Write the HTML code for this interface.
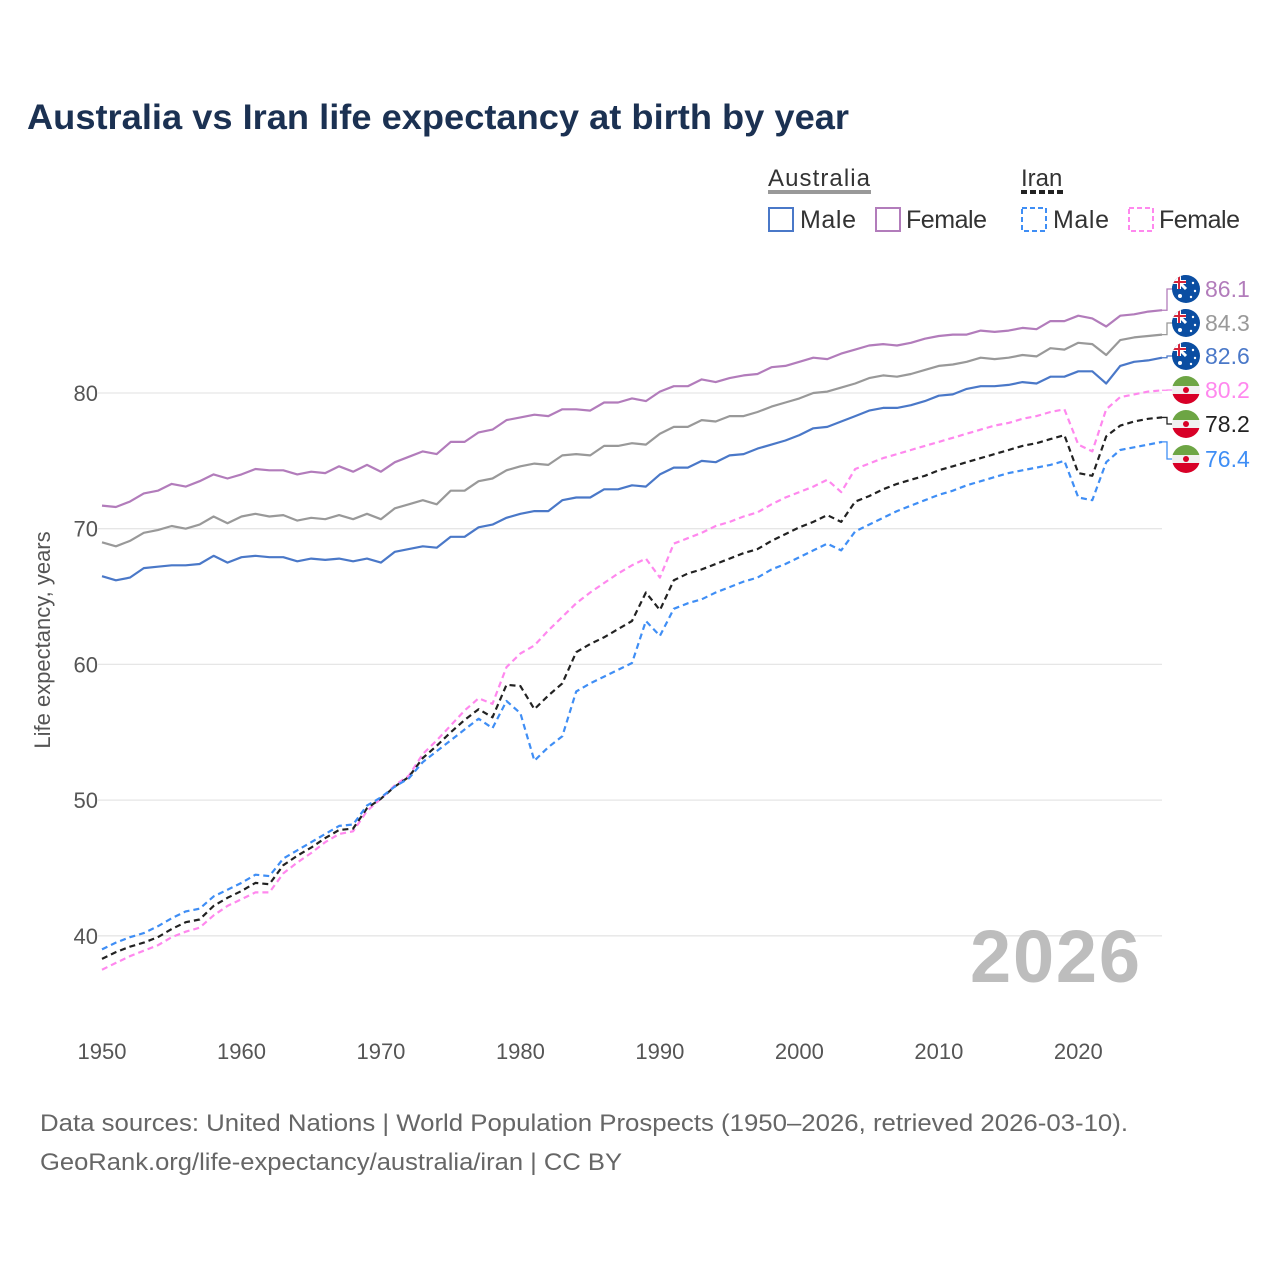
<!DOCTYPE html>
<html><head><meta charset="utf-8"><style>
body{margin:0;background:#fff}
svg text{font-family:"Liberation Sans",sans-serif}
</style></head><body>
<svg id="chart" width="1280" height="1280" viewBox="0 0 1280 1280" xmlns="http://www.w3.org/2000/svg">
<defs><clipPath id="fc"><circle cx="0" cy="0" r="14"/></clipPath></defs>
<text x="27" y="129" font-size="35" font-weight="bold" fill="#1b3152" textLength="822" lengthAdjust="spacingAndGlyphs">Australia vs Iran life expectancy at birth by year</text>
<g>
<text x="768" y="186" font-size="24" fill="#333" textLength="102">Australia</text>
<line x1="768" y1="192" x2="871" y2="192" stroke="#999" stroke-width="4"/>
<text x="1021" y="186" font-size="24" fill="#333">Iran</text>
<line x1="1021" y1="192" x2="1066" y2="192" stroke="#222" stroke-width="4" stroke-dasharray="6,3"/>
<g><rect x="769" y="208" width="24" height="23" fill="none" stroke="#4a78c8" stroke-width="2"/><text x="800" y="228" font-size="25" fill="#333" textLength="56">Male</text></g>
<g><rect x="876" y="208" width="24" height="23" fill="none" stroke="#b27cbb" stroke-width="2"/><text x="906" y="228" font-size="25" fill="#333" textLength="81">Female</text></g>
<g><rect x="1022" y="208" width="24" height="23" fill="none" stroke="#3f8ef5" stroke-width="2" stroke-dasharray="5,3"/><text x="1053" y="228" font-size="25" fill="#333" textLength="56">Male</text></g>
<g><rect x="1129" y="208" width="24" height="23" fill="none" stroke="#ff88ee" stroke-width="2" stroke-dasharray="5,3"/><text x="1159" y="228" font-size="25" fill="#333" textLength="81">Female</text></g>
</g>
<g id="grid"></g>
<text x="1140" y="982" font-size="74" font-weight="bold" fill="#bdbdbd" text-anchor="end" textLength="170">2026</text>
<g id="series"></g>
<g id="ends"></g>
<text transform="translate(50,640) rotate(-90)" font-size="22" fill="#555" text-anchor="middle">Life expectancy, years</text>
<text x="40" y="1131" font-size="24" fill="#666" textLength="1088" lengthAdjust="spacingAndGlyphs">Data sources: United Nations | World Population Prospects (1950–2026, retrieved 2026-03-10).</text>
<text x="40" y="1170" font-size="24" fill="#666" textLength="582" lengthAdjust="spacingAndGlyphs">GeoRank.org/life-expectancy/australia/iran | CC BY</text>
</svg>
<script>
const startYear = 1950;
const xTicks = [1950,1960,1970,1980,1990,2000,2010,2020];
const yTicks = [40,50,60,70,80];
const auMale = [66.5,66.2,66.4,67.1,67.2,67.3,67.3,67.4,68.0,67.5,67.9,68.0,67.9,67.9,67.6,67.8,67.7,67.8,67.6,67.8,67.5,68.3,68.5,68.7,68.6,69.4,69.4,70.1,70.3,70.8,71.1,71.3,71.3,72.1,72.3,72.3,72.9,72.9,73.2,73.1,74.0,74.5,74.5,75.0,74.9,75.4,75.5,75.9,76.2,76.5,76.9,77.4,77.5,77.9,78.3,78.7,78.9,78.9,79.1,79.4,79.8,79.9,80.3,80.5,80.5,80.6,80.8,80.7,81.2,81.2,81.6,81.6,80.7,82.0,82.3,82.4,82.6];
const auTotal = [69.0,68.7,69.1,69.7,69.9,70.2,70.0,70.3,70.9,70.4,70.9,71.1,70.9,71.0,70.6,70.8,70.7,71.0,70.7,71.1,70.7,71.5,71.8,72.1,71.8,72.8,72.8,73.5,73.7,74.3,74.6,74.8,74.7,75.4,75.5,75.4,76.1,76.1,76.3,76.2,77.0,77.5,77.5,78.0,77.9,78.3,78.3,78.6,79.0,79.3,79.6,80.0,80.1,80.4,80.7,81.1,81.3,81.2,81.4,81.7,82.0,82.1,82.3,82.6,82.5,82.6,82.8,82.7,83.3,83.2,83.7,83.6,82.8,83.9,84.1,84.2,84.3];
const auFemale = [71.7,71.6,72.0,72.6,72.8,73.3,73.1,73.5,74.0,73.7,74.0,74.4,74.3,74.3,74.0,74.2,74.1,74.6,74.2,74.7,74.2,74.9,75.3,75.7,75.5,76.4,76.4,77.1,77.3,78.0,78.2,78.4,78.3,78.8,78.8,78.7,79.3,79.3,79.6,79.4,80.1,80.5,80.5,81.0,80.8,81.1,81.3,81.4,81.9,82.0,82.3,82.6,82.5,82.9,83.2,83.5,83.6,83.5,83.7,84.0,84.2,84.3,84.3,84.6,84.5,84.6,84.8,84.7,85.3,85.3,85.7,85.5,84.9,85.7,85.8,86.0,86.1];
const irTotal = [38.3,38.8,39.2,39.5,39.9,40.5,41.0,41.2,42.2,42.8,43.3,43.9,43.8,45.2,45.9,46.5,47.2,47.8,47.9,49.4,50.1,51.0,51.7,53.1,54.0,55.0,55.9,56.7,56.1,58.5,58.4,56.7,57.7,58.6,60.9,61.5,62.0,62.6,63.2,65.3,64.0,66.2,66.7,67.0,67.4,67.8,68.2,68.5,69.1,69.6,70.1,70.5,71.0,70.5,72.0,72.4,72.9,73.3,73.6,73.9,74.3,74.6,74.9,75.2,75.5,75.8,76.1,76.3,76.6,76.9,74.1,73.9,76.8,77.6,77.9,78.1,78.2];
const irMale = [39.0,39.5,39.9,40.2,40.7,41.3,41.8,42.0,42.9,43.4,43.9,44.5,44.4,45.7,46.3,46.9,47.5,48.1,48.2,49.6,50.2,51.0,51.6,52.8,53.6,54.4,55.2,56.0,55.3,57.3,56.4,52.9,53.9,54.7,58.0,58.6,59.1,59.6,60.1,63.2,62.1,64.1,64.5,64.8,65.3,65.7,66.1,66.4,67.0,67.4,67.9,68.4,68.9,68.4,69.8,70.3,70.8,71.3,71.7,72.1,72.5,72.8,73.2,73.5,73.8,74.1,74.3,74.5,74.7,75.0,72.3,72.1,74.9,75.8,76.0,76.2,76.4];
const irFemale = [37.5,38.0,38.5,38.9,39.3,39.9,40.3,40.6,41.5,42.2,42.7,43.2,43.2,44.6,45.4,46.1,46.9,47.5,47.7,49.2,50.1,51.1,51.8,53.4,54.4,55.5,56.6,57.5,57.1,59.8,60.8,61.4,62.5,63.5,64.5,65.3,66.0,66.7,67.3,67.8,66.4,68.9,69.3,69.7,70.2,70.5,70.9,71.2,71.8,72.3,72.7,73.1,73.6,72.7,74.4,74.8,75.2,75.5,75.8,76.1,76.4,76.7,77.0,77.3,77.6,77.8,78.1,78.3,78.6,78.8,76.2,75.7,78.8,79.7,79.9,80.1,80.2];

const NS="http://www.w3.org/2000/svg";
const X0=102,X1=1162,Y80=393,PER=13.57;
const xS=y=>X0+(y-1950)*(X1-X0)/76;
const yS=v=>Y80-(v-80)*PER;
const mk=(t,a,p)=>{const e=document.createElementNS(NS,t);for(const k in a)e.setAttribute(k,a[k]);(p||document.getElementById('chart')).appendChild(e);return e;};
const grid=document.getElementById('grid');
yTicks.forEach(v=>{
  const l=mk('line',{x1:X0-4,x2:X1,y1:yS(v),y2:yS(v),stroke:'#e6e6e6','stroke-width':1.3},grid);
  
  
  const t=mk('text',{x:98,y:yS(v)+8,'font-size':22,fill:'#555','text-anchor':'end'},grid);
  t.textContent=v;
  
  
});
xTicks.forEach(y=>{
  const t=mk('text',{x:xS(y),y:1059,'font-size':22,fill:'#555','text-anchor':'middle'},grid);
  t.textContent=y;
  
  
});
const series=[
 {n:'australia-female',d:auFemale,c:'#b27cbb',dash:null,f:'au',lc:'#b27cbb',ly:289},
 {n:'australia-total',d:auTotal,c:'#999999',dash:null,f:'au',lc:'#999',ly:323},
 {n:'australia-male',d:auMale,c:'#4a78c8',dash:null,f:'au',lc:'#4a78c8',ly:356},
 {n:'iran-female',d:irFemale,c:'#ff88ee',dash:'6,4',f:'ir',lc:'#ff88ee',ly:390},
 {n:'iran-total',d:irTotal,c:'#222222',dash:'6,4',f:'ir',lc:'#222',ly:424},
 {n:'iran-male',d:irMale,c:'#3f8ef5',dash:'6,4',f:'ir',lc:'#3f8ef5',ly:459}
];
const sg=document.getElementById('series'),eg=document.getElementById('ends');
series.forEach(s=>{
  const pts=s.d.map((v,i)=>xS(startYear+i).toFixed(1)+','+yS(v).toFixed(1)).join(' ');
  const a={points:pts,fill:'none',stroke:s.c,'stroke-width':2.2,'stroke-linejoin':'round'};
  if(s.dash)a['stroke-dasharray']=s.dash;
  const p=mk('polyline',a,sg);
  
  
  const last=s.d[s.d.length-1],ey=yS(last);
  const c=mk('polyline',{points:`${X1},${ey} ${X1+5},${ey} ${X1+5},${s.ly} ${X1+12},${s.ly}`,fill:'none',stroke:s.c,'stroke-width':1.3},eg);
  
  
  const g=mk('g',{transform:`translate(1186,${s.ly})`},eg);
  
  
  if(s.f==='au'){
    mk('circle',{cx:0,cy:0,r:14,fill:'#0b4ea2'},g);
    const q=mk('g',{'clip-path':'url(#fc)'},g);
    mk('rect',{x:-14,y:-14,width:14,height:14,fill:'#0b4ea2'},q);
    mk('line',{x1:-14,y1:-14,x2:0,y2:0,stroke:'#fff','stroke-width':3},q);
    mk('line',{x1:-14,y1:-7,x2:0,y2:-7,stroke:'#fff','stroke-width':4},q);
    mk('line',{x1:-7,y1:-14,x2:-7,y2:0,stroke:'#fff','stroke-width':4},q);
    mk('line',{x1:-14,y1:-7,x2:0,y2:-7,stroke:'#d6243a','stroke-width':2},q);
    mk('line',{x1:-7,y1:-14,x2:-7,y2:0,stroke:'#d6243a','stroke-width':2},q);
    mk('circle',{cx:-6,cy:7,r:2,fill:'#fff'},g);
    mk('circle',{cx:7,cy:-6,r:1.2,fill:'#fff'},g);
    mk('circle',{cx:9,cy:2,r:1.2,fill:'#fff'},g);
    mk('circle',{cx:5,cy:8,r:1.2,fill:'#fff'},g);
  } else {
    const q=mk('g',{'clip-path':'url(#fc)'},g);
    mk('rect',{x:-14,y:-14,width:28,height:10,fill:'#6da544'},q);
    mk('rect',{x:-14,y:-4,width:28,height:8,fill:'#f0f0f0'},q);
    mk('rect',{x:-14,y:4,width:28,height:10,fill:'#d80027'},q);
    mk('circle',{cx:0,cy:0,r:3,fill:'#d80027'},g);
  }
  const t=mk('text',{x:1205,y:s.ly+8,'font-size':23,fill:s.lc},eg);
  t.textContent=last.toFixed(1);
  
  
});
</script>
</body></html>
